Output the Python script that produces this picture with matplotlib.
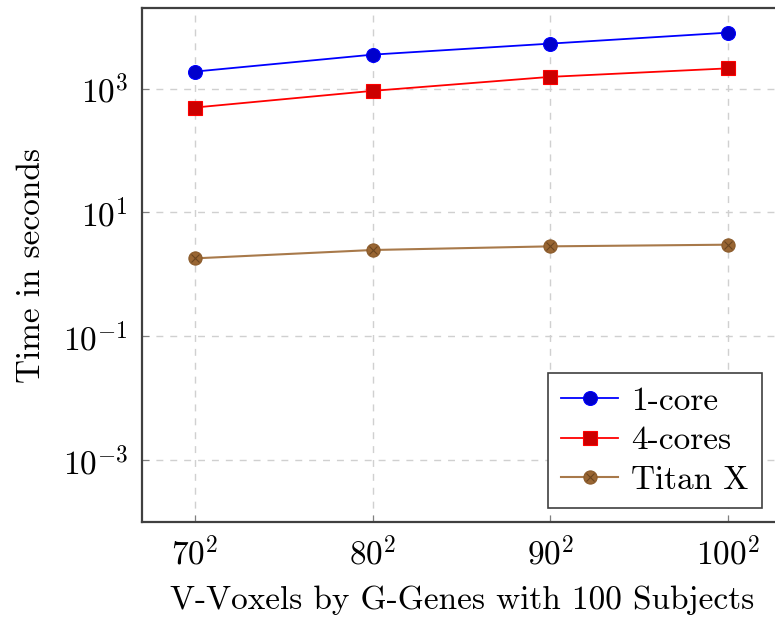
import matplotlib
matplotlib.use("Agg")
import matplotlib.pyplot as plt
from matplotlib.legend_handler import HandlerTuple

plt.rcParams['font.family'] = ['cmr10', 'DejaVu Serif']
plt.rcParams['mathtext.fontset'] = 'cm'
plt.rcParams['axes.formatter.use_mathtext'] = True

# Data
x_vals = [70, 80, 90, 100]
x_labels = [r'$70^2$', r'$80^2$', r'$90^2$', r'$100^2$']
one_core = [1880, 3530, 5320, 8000]
four_cores = [494, 918, 1545, 2120]
titan_x = [1.81, 2.47, 2.83, 3.01]
y_ticks = [1e-3, 1e-1, 1e1, 1e3]
y_tick_labels = [r'$10^{-3}$', r'$10^{-1}$', r'$10^{1}$', r'$10^{3}$']

W, H = 775, 622
fig = plt.figure(figsize=(W / 100, H / 100), dpi=100)
ax = fig.add_axes([142 / W, (H - 522) / H, (782 - 142) / W, (522 - 8) / H])

ms = 10
h1, = ax.plot(x_vals, one_core, color='#0000ff', lw=1.3, marker='o', ms=ms,
              mfc='#0000cc', mec='#0000ff', mew=0.8, zorder=3)
h2, = ax.plot(x_vals, four_cores, color='#ff0000', lw=1.3, marker='s', ms=ms - 0.5,
              mfc='#cc0000', mec='#ff0000', mew=0.8, zorder=3)
h3, = ax.plot(x_vals, titan_x, color='#a8794a', lw=1.5, marker='o', ms=ms - 0.5,
              mfc='#996633', mec='#8a5a2a', mew=0.8, zorder=3)
h3x, = ax.plot(x_vals, titan_x, ls='none', marker='x', ms=6, mec='#6a4520',
               mew=0.8, zorder=4)

ax.set_yscale('log')
ax.set_ylim(1e-4, 2e4)
ax.set_xlim(67.02, 103.04)
ax.set_yticks(y_ticks)
ax.set_yticklabels(y_tick_labels)
ax.yaxis.set_minor_locator(matplotlib.ticker.NullLocator())
ax.set_xticks(x_vals)
ax.set_xticklabels(x_labels)

ax.grid(True, which='major', ls=(0, (5, 5)), color='#d0d0d0', lw=1.0)
ax.set_axisbelow(True)
ax.tick_params(direction='in', length=5, width=0.8, color='#808080',
               labelsize=24, pad=10)
for s in ax.spines.values():
    s.set_color('#404040')
    s.set_linewidth(1.6)

ax.set_xlabel('V-Voxels by G-Genes with 100 Subjects', fontsize=24, labelpad=10)
ax.set_ylabel('Time in seconds', fontsize=24, labelpad=12)

leg = ax.legend([h1, h2, (h3, h3x)], ['1-core', '4-cores', 'Titan X'],
                handler_map={tuple: HandlerTuple(ndivide=1)},
                loc='lower right', bbox_to_anchor=(762 / W, (H - 508) / H),
                bbox_transform=fig.transFigure,
                fontsize=24, frameon=True, fancybox=False, edgecolor='#404040',
                framealpha=1, handlelength=1.7, borderpad=0.4, labelspacing=0.3,
                handletextpad=0.4, borderaxespad=0)
leg.get_frame().set_linewidth(1.2)

fig.savefig('out.png', dpi=100)
